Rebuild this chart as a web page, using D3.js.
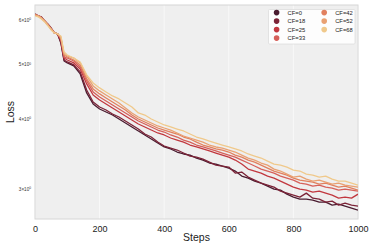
<!DOCTYPE html>
<html><head><meta charset="utf-8">
<script src="https://cdn.jsdelivr.net/npm/d3@7"></script>
<style>html,body{margin:0;padding:0;background:#fff}svg{display:block}</style>
</head><body><svg id="c" width="374" height="249"></svg>
<script>
const steps = [0,10,20,30,40,50,60,70,80,90,100,120,140,160,180,200,220,240,260,280,300,320,340,360,380,400,420,440,460,480,500,520,540,560,580,600,620,640,660,680,700,720,740,760,780,800,820,840,860,880,900,920,940,960,980,1000];
const seriesNames = ["CF=0","CF=18","CF=25","CF=33","CF=42","CF=52","CF=68"];
const colors = ["#4a1c30","#7c2337","#c2383f","#d6605a","#e1805f","#e9a172","#f0c98b"];
const cf0  = [6.125,6.10,6.05,5.975,5.878,5.782,5.687,5.664,5.458,5.068,5.027,4.966,4.805,4.444,4.247,4.160,4.109,4.058,3.992,3.927,3.863,3.800,3.738,3.677,3.616,3.558,3.529,3.485,3.457,3.442,3.400,3.372,3.331,3.317,3.290,3.263,3.223,3.157,3.131,3.093,3.067,3.030,2.992,2.980,2.931,2.895,2.872,2.872,2.860,2.837,2.837,2.802,2.813,2.790,2.767,2.745];
const cf18 = [6.150,6.10,6.075,5.975,5.902,5.806,5.687,5.664,5.481,5.089,5.048,4.986,4.845,4.499,4.282,4.194,4.143,4.075,4.025,3.960,3.895,3.831,3.753,3.707,3.631,3.572,3.543,3.514,3.471,3.428,3.414,3.386,3.344,3.303,3.290,3.276,3.196,3.210,3.144,3.105,3.067,3.042,3.017,2.968,2.943,2.919,2.895,2.943,2.883,2.872,2.837,2.848,2.802,2.825,2.802,2.790];
const cf25 = [6.125,6.10,6.05,5.975,5.878,5.782,5.687,5.664,5.526,5.130,5.089,5.027,4.905,4.612,4.407,4.317,4.247,4.177,4.109,4.042,3.976,3.911,3.863,3.815,3.769,3.738,3.692,3.661,3.631,3.587,3.558,3.529,3.500,3.471,3.442,3.414,3.372,3.317,3.249,3.223,3.196,3.157,3.131,3.093,3.055,3.017,2.992,2.980,2.956,2.968,2.943,2.919,2.883,2.895,2.883,2.931];
const cf33 = [6.125,6.10,6.05,5.975,5.878,5.782,5.687,5.664,5.548,5.151,5.130,5.068,4.945,4.669,4.462,4.371,4.299,4.229,4.160,4.092,4.025,3.960,3.911,3.863,3.815,3.784,3.738,3.707,3.661,3.631,3.587,3.558,3.529,3.500,3.471,3.442,3.414,3.372,3.331,3.290,3.249,3.223,3.196,3.157,3.131,3.105,3.067,3.055,3.030,3.042,3.017,3.005,2.980,2.992,2.980,2.968];
const cf42 = [6.125,6.10,6.05,5.975,5.878,5.782,5.687,5.664,5.571,5.194,5.151,5.089,4.986,4.708,4.518,4.426,4.353,4.282,4.212,4.143,4.058,3.992,3.943,3.895,3.847,3.815,3.784,3.753,3.707,3.677,3.631,3.587,3.558,3.529,3.514,3.485,3.442,3.414,3.372,3.344,3.303,3.263,3.223,3.196,3.170,3.131,3.105,3.093,3.080,3.055,3.067,3.042,3.017,3.030,3.005,2.980];
const cf52 = [6.125,6.10,6.05,5.975,5.878,5.782,5.687,5.664,5.594,5.215,5.173,5.130,5.027,4.766,4.574,4.481,4.407,4.335,4.264,4.177,4.092,4.025,3.976,3.927,3.879,3.847,3.815,3.769,3.722,3.692,3.661,3.631,3.587,3.558,3.543,3.514,3.485,3.442,3.400,3.372,3.331,3.303,3.249,3.223,3.183,3.144,3.157,3.118,3.093,3.105,3.080,3.055,3.067,3.042,3.030,3.017];
const cf68 = [6.100,6.075,6.025,5.951,5.854,5.758,5.687,5.664,5.617,5.258,5.194,5.130,5.048,4.786,4.631,4.537,4.462,4.389,4.335,4.264,4.194,4.092,4.058,3.992,3.943,3.895,3.863,3.831,3.800,3.753,3.707,3.677,3.646,3.616,3.587,3.558,3.529,3.500,3.457,3.428,3.400,3.358,3.317,3.303,3.276,3.236,3.223,3.183,3.170,3.144,3.157,3.118,3.093,3.093,3.067,3.042];
const seriesValues = [cf0,cf18,cf25,cf33,cf42,cf52,cf68];
const xTicks = [0,200,400,600,800,1000];
const yTicks = [3,4,5,6];
const yTickLabels = ["3","4","5","6"];

const svg = d3.select("#c");
const L=35, R=358, T=5, B=219;
const x = d3.scaleLinear().domain([0,1000]).range([L,R]);
const y = d3.scaleLog().domain([2.646,6.38]).range([B,T]);
const font = "Liberation Sans, Arial, sans-serif";

svg.append("rect").attr("x",L).attr("y",T).attr("width",R-L).attr("height",B-T).attr("fill","#efefef");
// grid
svg.append("g").selectAll("line").data(xTicks).join("line")
  .attr("x1",d=>x(d)).attr("x2",d=>x(d)).attr("y1",T).attr("y2",B)
  .attr("stroke","#ffffff").attr("stroke-opacity",0.75).attr("stroke-width",0.8);
// frame
svg.append("rect").attr("x",L).attr("y",T).attr("width",R-L).attr("height",B-T)
  .attr("fill","none").attr("stroke","#d6d6d6").attr("stroke-width",1);

// lines
svg.append("clipPath").attr("id","pc").append("rect").attr("x",L).attr("y",T).attr("width",R-L).attr("height",B-T);
const line = d3.line().x((d,i)=>x(steps[i])).y(d=>y(d)).curve(d3.curveLinear);
const lg = svg.append("g").attr("clip-path","url(#pc)");
seriesValues.forEach((vals,k)=>{
  lg.append("path").datum(vals).attr("d",line).attr("fill","none")
    .attr("stroke",colors[k]).attr("stroke-width",1.3).attr("stroke-linejoin","round");
});

// axes
const xAxis = d3.axisBottom(x).tickValues(xTicks).tickSize(0).tickPadding(7).tickFormat(d3.format("d"));
const gx = svg.append("g").attr("transform",`translate(0,${B})`).call(xAxis);
gx.select(".domain").remove();
gx.selectAll("text").attr("font-family",font).attr("font-size",9).attr("fill","#222");

const yAxis = d3.axisLeft(y).tickValues(yTicks).tickSize(0).tickPadding(4).tickFormat(()=>"");
const gy = svg.append("g").attr("transform",`translate(${L},0)`).call(yAxis);
gy.select(".domain").remove();
gy.selectAll(".tick").each(function(d,i){
  const t = d3.select(this).select("text").attr("font-family",font).attr("font-size",4.6).attr("fill","#333").attr("dy","0.35em");
  t.append("tspan").text(yTickLabels[i]+"\u00d710");
  t.append("tspan").attr("font-size",3.2).attr("dy","-1.6").text("0");
});

svg.append("text").attr("x",(L+R)/2).attr("y",241).attr("text-anchor","middle")
  .attr("font-family",font).attr("font-size",10.5).attr("fill","#222").text("Steps");
svg.append("text").attr("transform",`translate(14,${(T+B)/2}) rotate(-90)`).attr("text-anchor","middle")
  .attr("font-family",font).attr("font-size",10.5).attr("fill","#222").text("Loss");

// legend
const leg = svg.append("g");
leg.append("rect").attr("x",268.5).attr("y",9.5).attr("width",86.5).attr("height",34.5)
  .attr("fill","#ffffff").attr("fill-opacity",0.85).attr("stroke","#dddddd").attr("stroke-width",0.8).attr("rx",1);
const rowY = [12.6,21.1,29.6,38.1];
seriesNames.forEach((n,k)=>{
  const col = k<4?0:1, row = k<4?k:k-4;
  const cx = col===0?276.6:324.2;
  leg.append("circle").attr("cx",cx).attr("cy",rowY[row]).attr("r",2.8).attr("fill",colors[k]);
  leg.append("text").attr("x",cx+11).attr("y",rowY[row]).attr("dy","0.35em")
    .attr("font-family",font).attr("font-size",5.8).attr("fill","#222").text(n);
});
</script></body></html>
